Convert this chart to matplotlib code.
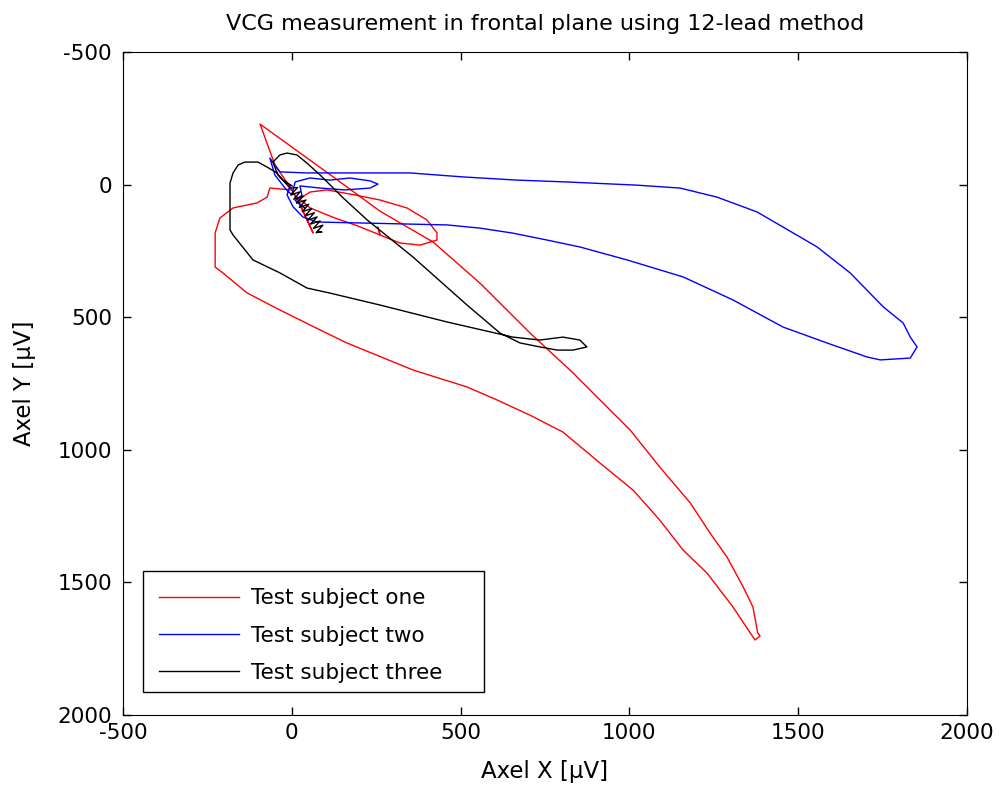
import matplotlib
matplotlib.use('Agg')
from matplotlib import pyplot as plt
from matplotlib.patches import Rectangle

plt.rcParams['font.family'] = ['DejaVu Sans']
plt.rcParams['axes.unicode_minus'] = False

# Test subject one (red)
red_x = [0, -65, -73, -103, -174, -213, -227, -227, -204, -133, -35, 84, 163, 359, 519, 608,
         705, 803, 913, 1011, 1090, 1159, 1230, 1307, 1372, 1387, 1380, 1366, 1337, 1289, 1239,
         1180, 1090, 1002, 913, 833, 706, 557, 418, 261, 113, -94, -50, -5,
         24, 63, 39, 18, 54, 104, 187, 261, 341, 400, 430, 430, 380, 320, 261, 255, 262, 187,
         128, 54, 9]
red_y = [20, 13, 47, 69, 88, 126, 182, 311, 333, 408, 473, 548, 597, 699, 763, 812,
         869, 933, 1050, 1152, 1265, 1378, 1465, 1593, 1717, 1702, 1690, 1593, 1517, 1404, 1314,
         1200, 1065, 925, 812, 710, 560, 371, 216, 100, -38, -228, -74, 9,
         77, 182, 115, 58, 28, 20, 39, 58, 88, 133, 182, 209, 228, 220, 190, 160, 190, 152,
         126, 88, 39]

# Test subject two (blue)
blue_x = [-5, -14, 4, 33, 75, 460, 557, 655, 756, 853, 993, 1159, 1307, 1455, 1585, 1704, 1743,
          1832, 1852, 1832, 1811, 1752, 1654, 1556, 1455, 1378, 1259, 1150, 1022, 815, 667, 507,
          350, 45, -35, -65, -50, -20, 0, 10, 54, 113, 172, 232, 255, 232, 157, 84, 24, 30, 10, 40,
          20]
blue_y = [2, 39, 84, 122, 141, 152, 164, 183, 209, 235, 284, 348, 435, 537, 597, 650, 661,
          654, 612, 575, 522, 461, 333, 235, 160, 103, 47, 13, 2, -10, -17, -29,
          -44, -44, -48, -100, -36, 13, 39, -10, -25, -17, -25, -14, -2, 13, 20, 13, 5, 40, 60, 90,
          70]

# Test subject three (black)
black_x = [1, -26, -44, -73, -100, -139, -159, -174, -183, -183, -174, -115, -35, 45, 113, 261,
           460, 655, 735, 803, 853, 874, 833, 786, 735, 676, 617, 519, 359, 223, 152, 84, 45, 15,
           -14, -35, -56, -41, -5,
           17, -3, 25, 6, 34, 14, 42, 22, 50, 31, 59, 39, 67, 47, 75, 55, 84, 64, 92, 72, 89, 80]
black_y = [5, -17, -44, -66, -85, -85, -74, -44, -6, 171, 190, 284, 333, 390, 409, 454,
           518, 575, 586, 575, 586, 612, 624, 624, 612, 597, 560, 454, 273, 133, 50, -36, -81, -112,
           -119, -112, -85, -36, 13,
           11, 39, 27, 55, 43, 70, 58, 86, 74, 102, 90, 118, 106, 134, 122, 149, 137, 165, 153, 181, 179, 176]

plt.figure(figsize=(10, 7.88), dpi=100)
ax = plt.axes([0.123, 0.0926, 0.844, 0.8414])
l1, = ax.plot(red_x, red_y, color='#ff0000', lw=1)
l2, = ax.plot(blue_x, blue_y, color='#0000ff', lw=1)
l3, = ax.plot(black_x, black_y, color='black', lw=1)

ax.set_xlim(-500, 2000)
ax.set_ylim(2000, -500)
ax.set_xticks([-500, 0, 500, 1000, 1500, 2000])
ax.set_yticks([-500, 0, 500, 1000, 1500, 2000])
ax.tick_params(direction='in', top=True, right=True, length=6, width=1, labelsize=15.5)
ax.tick_params(axis='x', pad=6)
ax.tick_params(axis='y', pad=8)

plt.title('VCG measurement in frontal plane using 12-lead method', fontsize=16, pad=16)
plt.xlabel('Axel X [µV]', fontsize=16.5, labelpad=12)
plt.ylabel('Axel Y [µV]', fontsize=16.5, labelpad=15)

# legend box (MATLAB style, wider than the text)
box = Rectangle((0.0237, 0.0347), 0.404, 0.1825, transform=ax.transAxes,
                facecolor='white', edgecolor='black', lw=1, zorder=4.9)
ax.add_patch(box)
leg = ax.legend((l1, l2, l3), ('Test subject one', 'Test subject two', 'Test subject three'),
                loc='lower left', bbox_to_anchor=(0.0237, 0.0241), borderaxespad=0,
                fontsize=15.5, frameon=False,
                handlelength=3.7, handletextpad=0.55, labelspacing=0.8, borderpad=0.75)

plt.savefig('out.png')
